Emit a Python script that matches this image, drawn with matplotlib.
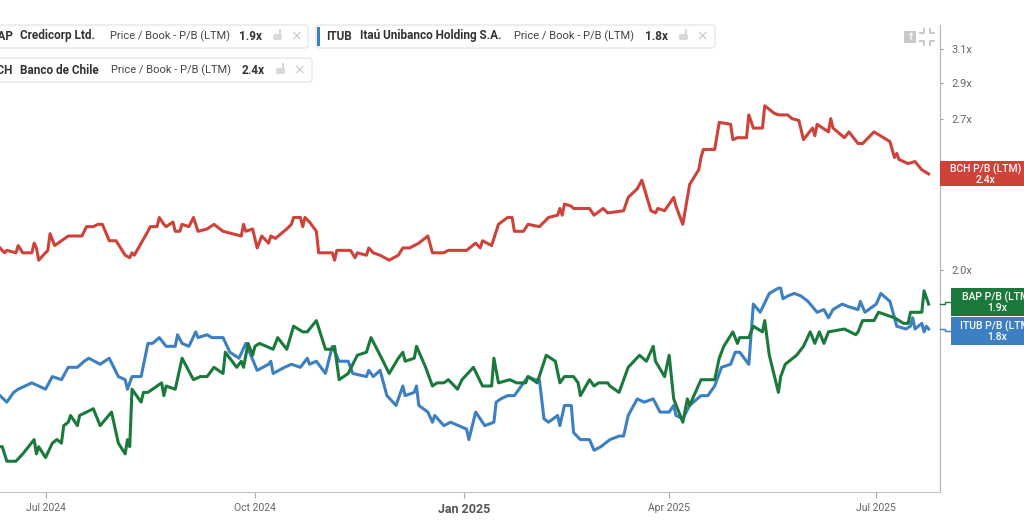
import matplotlib
matplotlib.use('Agg')
import matplotlib.pyplot as plt
import matplotlib.dates as mdates
import pandas as pd
from matplotlib.patches import Rectangle, FancyBboxPatch
from matplotlib.lines import Line2D
from matplotlib.transforms import IdentityTransform
from matplotlib.ticker import FixedLocator, NullLocator, FuncFormatter

plt.rcParams['font.family'] = ['Roboto', 'DejaVu Sans']

# days counted from 11 Jun 2024
start = pd.Timestamp('2024-06-11')

bch_days = [0, 2, 3, 7, 8, 10, 14, 15, 16, 17, 21, 22, 24, 27, 30, 36, 38, 41, 43, 45, 48, 51, 55, 57, 58, 59,
            65, 66, 69, 70, 72, 73, 76, 77, 79, 80, 83, 85, 87, 91, 94, 98, 106, 107, 108, 111, 113, 115, 118,
            119, 121, 126, 128, 129, 132, 133, 134, 136, 139, 140, 146, 147, 148, 150, 154, 156, 157, 161, 162,
            164, 167, 171, 175, 177, 180, 184, 188, 190, 195, 197, 205, 209, 211, 212, 216, 217, 219, 223, 225,
            226, 230, 232, 237, 241, 245, 246, 247, 248, 251, 252, 259, 261, 265, 267, 274, 276, 280, 282, 286,
            288, 289, 292, 296, 297, 300, 303, 307, 308, 309, 314, 316, 321, 322, 324, 328, 329, 331, 335, 336,
            340, 342, 346, 348, 351, 353, 357, 358, 359, 364, 365, 366, 371, 373, 377, 379, 384, 391, 393, 394,
            395, 399, 402, 405, 408]
bch_pb = [2.09, 2.07, 2.08, 2.07, 2.10, 2.07, 2.07, 2.11, 2.09, 2.04, 2.08, 2.15, 2.10, 2.12, 2.14, 2.14, 2.18,
          2.18, 2.19, 2.19, 2.12, 2.12, 2.06, 2.05, 2.07, 2.06, 2.16, 2.18, 2.18, 2.22, 2.19, 2.18, 2.20, 2.16,
          2.16, 2.19, 2.18, 2.22, 2.16, 2.17, 2.19, 2.16, 2.14, 2.19, 2.16, 2.17, 2.09, 2.14, 2.11, 2.14, 2.13,
          2.17, 2.19, 2.22, 2.22, 2.18, 2.22, 2.20, 2.16, 2.07, 2.07, 2.04, 2.08, 2.08, 2.08, 2.05, 2.07, 2.06,
          2.09, 2.07, 2.06, 2.04, 2.06, 2.09, 2.09, 2.11, 2.14, 2.07, 2.07, 2.08, 2.08, 2.11, 2.09, 2.12, 2.10,
          2.13, 2.19, 2.22, 2.22, 2.16, 2.16, 2.19, 2.18, 2.22, 2.23, 2.26, 2.23, 2.28, 2.27, 2.26, 2.26, 2.23,
          2.26, 2.24, 2.25, 2.31, 2.35, 2.39, 2.25, 2.24, 2.26, 2.25, 2.31, 2.27, 2.19, 2.37, 2.44, 2.50, 2.54,
          2.54, 2.68, 2.67, 2.59, 2.60, 2.60, 2.72, 2.65, 2.65, 2.77, 2.73, 2.72, 2.72, 2.70, 2.69, 2.59, 2.65,
          2.61, 2.67, 2.63, 2.70, 2.65, 2.60, 2.63, 2.57, 2.57, 2.63, 2.58, 2.50, 2.52, 2.49, 2.47, 2.48, 2.44,
          2.42]

bap_days = [0, 1, 3, 7, 10, 15, 16, 17, 20, 23, 25, 27, 28, 30, 31, 34, 35, 41, 44, 49, 52, 55, 56, 57, 58, 62,
            63, 65, 71, 72, 73, 77, 80, 85, 88, 91, 94, 98, 99, 104, 106, 107, 109, 111, 112, 114, 120, 122, 126,
            129, 133, 135, 139, 143, 146, 147, 149, 153, 157, 161, 163, 167, 171, 175, 177, 178, 182, 183, 187,
            190, 192, 195, 197, 201, 203, 208, 212, 216, 217, 219, 224, 227, 231, 232, 236, 240, 244, 246, 248,
            252, 254, 255, 259, 261, 263, 267, 268, 272, 276, 281, 284, 287, 288, 292, 294, 296, 300, 302, 303,
            308, 314, 316, 318, 322, 324, 325, 329, 330, 331, 335, 336, 338, 342, 343, 345, 350, 353, 356, 358,
            360, 362, 364, 371, 376, 377, 379, 384, 386, 393, 397, 399, 400, 405, 406, 408]
bap_pb = [1.41, 1.41, 1.37, 1.37, 1.39, 1.43, 1.39, 1.41, 1.38, 1.42, 1.43, 1.42, 1.47, 1.48, 1.50, 1.47, 1.50,
          1.52, 1.47, 1.51, 1.42, 1.39, 1.43, 1.41, 1.58, 1.54, 1.57, 1.57, 1.60, 1.56, 1.59, 1.58, 1.68, 1.61,
          1.62, 1.62, 1.65, 1.63, 1.70, 1.65, 1.67, 1.65, 1.73, 1.69, 1.72, 1.73, 1.71, 1.75, 1.71, 1.79, 1.77,
          1.77, 1.81, 1.71, 1.71, 1.72, 1.61, 1.63, 1.69, 1.70, 1.75, 1.69, 1.63, 1.68, 1.70, 1.67, 1.68, 1.72,
          1.65, 1.59, 1.60, 1.60, 1.61, 1.58, 1.61, 1.65, 1.59, 1.59, 1.68, 1.60, 1.61, 1.60, 1.60, 1.62, 1.60,
          1.69, 1.67, 1.60, 1.62, 1.62, 1.60, 1.56, 1.61, 1.59, 1.60, 1.60, 1.59, 1.57, 1.65, 1.69, 1.67, 1.72,
          1.67, 1.62, 1.69, 1.55, 1.48, 1.55, 1.53, 1.61, 1.61, 1.68, 1.72, 1.77, 1.73, 1.75, 1.75, 1.77, 1.79,
          1.77, 1.81, 1.69, 1.57, 1.62, 1.66, 1.69, 1.72, 1.77, 1.73, 1.77, 1.73, 1.77, 1.78, 1.76, 1.77, 1.81,
          1.81, 1.84, 1.82, 1.80, 1.80, 1.84, 1.84, 1.92, 1.87]

itub_days = [0, 3, 6, 8, 14, 20, 23, 27, 30, 34, 37, 39, 44, 48, 52, 55, 56, 58, 62, 65, 67, 70, 73, 77, 78, 80,
             83, 86, 87, 91, 93, 98, 101, 105, 108, 113, 118, 119, 120, 125, 128, 132, 135, 136, 139, 143, 146,
             149, 153, 155, 161, 162, 164, 167, 170, 174, 177, 178, 182, 183, 184, 188, 190, 191, 195, 198, 205,
             206, 209, 211, 213, 217, 218, 220, 223, 226, 232, 235, 237, 239, 241, 245, 246, 248, 251, 252, 255,
             259, 261, 264, 268, 272, 274, 276, 280, 283, 287, 290, 294, 296, 297, 300, 303, 308, 311, 314, 317,
             321, 323, 325, 329, 331, 334, 338, 342, 343, 344, 346, 349, 352, 355, 359, 362, 364, 366, 370, 373,
             377, 378, 380, 385, 387, 391, 394, 398, 400, 401, 402, 405, 406, 407, 408]
itub_pb = [1.56, 1.54, 1.57, 1.58, 1.60, 1.58, 1.62, 1.61, 1.65, 1.65, 1.67, 1.68, 1.66, 1.68, 1.62, 1.61, 1.58,
           1.62, 1.62, 1.73, 1.73, 1.75, 1.72, 1.72, 1.76, 1.73, 1.72, 1.77, 1.75, 1.76, 1.75, 1.75, 1.70, 1.68,
           1.73, 1.64, 1.66, 1.67, 1.63, 1.65, 1.66, 1.65, 1.68, 1.66, 1.67, 1.63, 1.72, 1.67, 1.67, 1.63, 1.62,
           1.64, 1.62, 1.64, 1.56, 1.53, 1.59, 1.56, 1.57, 1.59, 1.53, 1.51, 1.48, 1.50, 1.47, 1.48, 1.46, 1.43,
           1.51, 1.49, 1.47, 1.48, 1.54, 1.55, 1.56, 1.56, 1.62, 1.61, 1.61, 1.49, 1.48, 1.50, 1.47, 1.53, 1.53,
           1.45, 1.43, 1.43, 1.40, 1.41, 1.43, 1.44, 1.44, 1.50, 1.55, 1.54, 1.55, 1.51, 1.51, 1.53, 1.50, 1.49,
           1.53, 1.56, 1.56, 1.59, 1.65, 1.66, 1.70, 1.70, 1.66, 1.87, 1.84, 1.91, 1.93, 1.93, 1.89, 1.90, 1.91,
           1.90, 1.88, 1.84, 1.85, 1.82, 1.85, 1.87, 1.86, 1.85, 1.88, 1.84, 1.87, 1.91, 1.88, 1.79, 1.78, 1.79,
           1.82, 1.78, 1.80, 1.77, 1.79, 1.78]

tickers = ['BAP', 'ITUB', 'BCH']
names = ['Credicorp Ltd.', 'Itaú Unibanco Holding S.A.', 'Banco de Chile']
last_labels = ['1.9x', '1.8x', '2.4x']
metric = 'Price / Book - P/B (LTM)'

y_ticks = [2.0, 2.7, 2.9, 3.1]
x_ticks = ['2024-07-01', '2024-10-01', '2025-01-01', '2025-04-01', '2025-07-01']
x_labels = ['Jul 2024', 'Oct 2024', 'Jan 2025', 'Apr 2025', 'Jul 2025']

RED = '#cd4339'
GREEN = '#1b7a3b'
BLUE = '#3d80c2'
W, H = 1024, 531


def dates(days):
    return start + pd.to_timedelta(days, unit='D')


def px(x, y):
    # image pixel (top-left origin) -> display coords
    return x, H - y


fig = plt.figure(figsize=(W / 100, H / 100), dpi=100)
ax = fig.add_axes([0, 39 / H, 940 / W, (492 - 25) / H])

ax.plot(dates(bch_days), bch_pb, color=RED, lw=2.2)
ax.plot(dates(itub_days), itub_pb, color=BLUE, lw=2.2)
ax.plot(dates(bap_days), bap_pb, color=GREEN, lw=2.2)

ax.set_yscale('log')
ax.set_ylim(1.289, 3.25)
ax.set_xlim(start, start + pd.Timedelta(days=413))

ax.yaxis.tick_right()
ax.yaxis.set_major_locator(FixedLocator(y_ticks))
ax.yaxis.set_minor_locator(NullLocator())
ax.yaxis.set_major_formatter(FuncFormatter(lambda v, _: f'{v:.1f}x'))
ax.tick_params(axis='y', length=2, width=0.8, color='#999999', labelsize=8, labelcolor='#666666', pad=6)

ax.set_xticks(pd.to_datetime(x_ticks))
ax.set_xticklabels(x_labels)
ax.tick_params(axis='x', length=4, width=0.8, color='#aaaaaa', labelsize=7.5, labelcolor='#666666', pad=4)
jan = ax.get_xticklabels()[2]
jan.set_fontweight('bold')
jan.set_fontsize(9)
jan.set_color('#555555')

for s in ['left', 'top']:
    ax.spines[s].set_visible(False)
ax.spines['right'].set_color('#b5b5b5')
ax.spines['bottom'].set_color('#c5c5c5')

idt = IdentityTransform()

# legend chips at the top (the first column is cut by the left edge, as in the source)
chips = [(-10, 25, 318, 23), (316, 25, 399, 23), (-10, 58, 322, 24)]
for x, y, w, h in chips:
    fig.patches.append(FancyBboxPatch(px(x, y + h), w, h, boxstyle='round,pad=0,rounding_size=3',
                                      transform=idt, facecolor='white', edgecolor='#e2e2e2', lw=0.8))
fig.patches.append(Rectangle(px(317, 46), 3, 19, transform=idt, facecolor=BLUE, edgecolor='none'))

rows = [(13, 20, 110, 239, 272, 36), (352, 360, 514, 645, 678, 36), (13, 20, 111, 242, 275, 70)]
for i, (xt, xn, xm, xv, xi, yy) in enumerate(rows):
    kw = dict(transform=idt, va='center', fontsize=8.5, color='#333333')
    fig.text(*px(xt, yy), tickers[i], ha='right', fontweight='bold', **kw)
    fig.text(*px(xn, yy), names[i], ha='left', fontweight='bold', **kw)
    fig.text(*px(xm, yy), metric, ha='left', color='#444444', fontsize=8, transform=idt, va='center')
    fig.text(*px(xv, yy), last_labels[i], ha='left', fontweight='bold', **kw)
    fig.patches.append(FancyBboxPatch(px(xi + 1, yy + 4), 9, 6, boxstyle='round,pad=0,rounding_size=2',
                                      transform=idt, facecolor='#d8d8d8', edgecolor='none'))
    fig.patches.append(Rectangle(px(xi + 7, yy - 2), 1.5, 5, transform=idt, facecolor='#d8d8d8',
                                 edgecolor='none'))
    fig.text(*px(xi + 24, yy), '×', ha='center', va='center', fontsize=10, color='#c8c8c8',
             transform=idt, family='DejaVu Sans')

# toolbar icons top right
fig.patches.append(Rectangle(px(904, 43), 12, 12, transform=idt, facecolor='#c9c9c9', edgecolor='none'))
fig.text(*px(910, 37), '↑', ha='center', va='center', fontsize=7, color='white', fontweight='bold',
         transform=idt, family='DejaVu Sans')
for cx, cy, sx, sy in [(924, 33, -1, 1), (930, 33, 1, 1), (924, 41, -1, -1), (930, 41, 1, -1)]:
    fig.lines.append(Line2D([cx + 4 * sx, cx, cx], [H - cy, H - cy, H - cy + 4 * sy], transform=idt,
                            color='#c9c9c9', lw=1.4))

# value tags at the right edge
fig.canvas.draw()
series_end = [(bch_days, bch_pb, RED, 'BCH', 2, 0, 940, 25),
              (bap_days, bap_pb, GREEN, 'BAP', 0, 2, 951, 28),
              (itub_days, itub_pb, BLUE, 'ITUB', 1, -2, 951, 28)]
for days, vals, col, tk, li, shift, x0, bh in series_end:
    xd = mdates.date2num(dates(days)[-1])
    yd = ax.transData.transform((xd, vals[-1]))[1]
    yc = yd + shift
    fig.patches.append(Rectangle((x0, yc - bh / 2), W + 20 - x0, bh, transform=idt, facecolor=col,
                                 edgecolor='none'))
    if x0 > 940:
        fig.lines.append(Line2D([940, 945, 945, x0], [yd, yd, yc, yc], transform=idt, color=col, lw=1))
    fig.text(x0 + 46, yc, f'{tk} P/B (LTM)\n{last_labels[li]}', ha='center', va='center',
             multialignment='center', fontsize=7.5, fontweight='medium', color='white', linespacing=1.0,
             transform=idt)

fig.savefig('out.png', dpi=100, facecolor='white')
